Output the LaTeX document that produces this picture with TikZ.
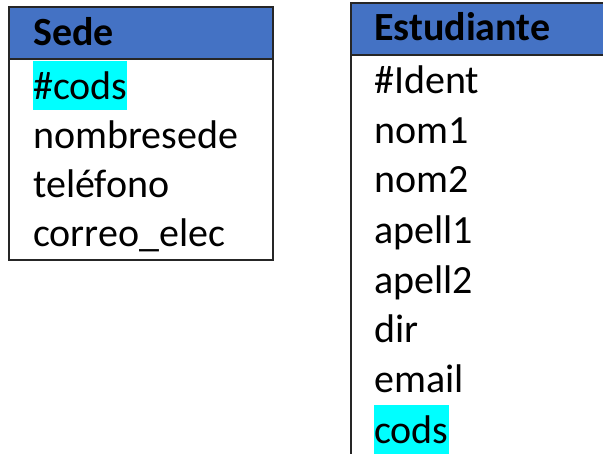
\documentclass[tikz,border=0pt]{standalone}
\usepackage{fontspec}
\setmainfont{Carlito}
\definecolor{hdrblue}{HTML}{4472C4}
\definecolor{hilite}{HTML}{00FFFF}
\definecolor{edge}{HTML}{262626}
\begin{document}
\begin{tikzpicture}[x=1pt,y=-1pt,
  field/.style={anchor=base west,inner sep=0pt,text height=38pt,text depth=11pt,
    font=\fontsize{40}{49}\selectfont},
  keyfield/.style={field,fill=hilite},
  title/.style={anchor=base west,inner sep=0pt,font=\fontsize{40}{49}\selectfont\bfseries},
  frame/.style={draw=edge,line width=1.4pt}]
\useasboundingbox (0,0) rectangle (603,453);
% Sede table
\fill[hdrblue] (9,7) rectangle (273,59);
\draw[frame] (9,7) rectangle (273,260);
\draw[frame] (9,59) -- (273,59);
\node[title] (sedeT) at (33,45) {Sede};
\node[keyfield] (s1) at (33,99) {\#cods};
\node[field] (s2) at (33,148) {nombresede};
\node[field] (s3) at (33,197) {teléfono};
\node[field] (s4) at (33,246) {correo\_elec};
% Estudiante table
\fill[hdrblue] (351,3) rectangle (605,55);
\draw[frame] (351,456) -- (351,3) -- (606,3);
\draw[frame] (351,55) -- (606,55);
\node[title] (estT) at (374,40) {Estudiante};
\node[field] (e1) at (374,93) {\#Ident};
\node[field] (e2) at (374,143) {nom1};
\node[field] (e3) at (374,192) {nom2};
\node[field] (e4) at (374,243) {apell1};
\node[field] (e5) at (374,293) {apell2};
\node[field] (e6) at (374,342) {dir};
\node[field] (e7) at (374,392) {email};
\node[keyfield] (e8) at (374,443) {cods};
\end{tikzpicture}
\end{document}
